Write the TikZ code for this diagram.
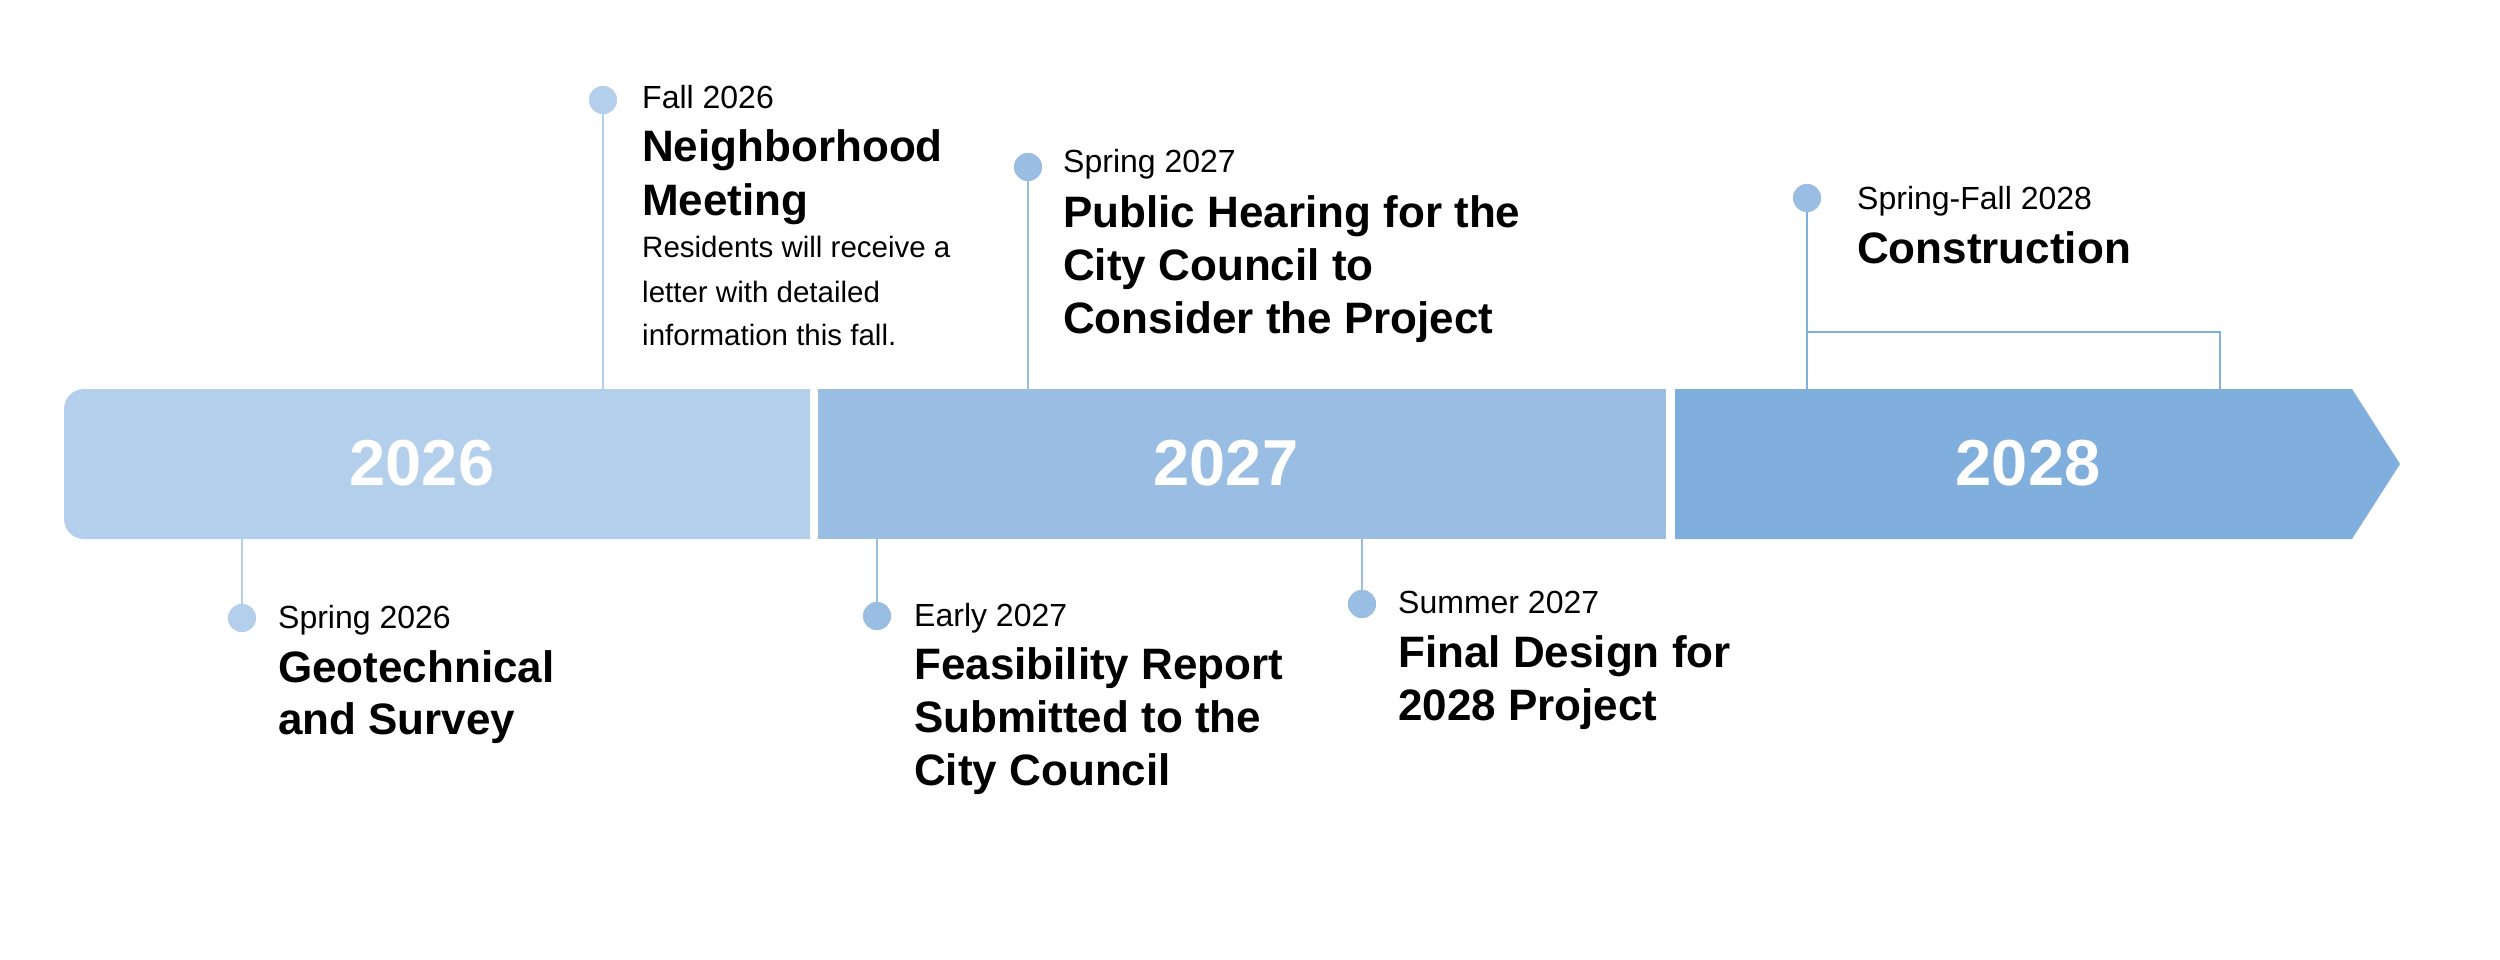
\documentclass[tikz,border=0pt]{standalone}
\usepackage{fontspec}
\setmainfont{Liberation Sans}
\definecolor{cA}{HTML}{B4CFEB}
\definecolor{cB}{HTML}{9ABEE3}
\definecolor{cC}{HTML}{80AEDD}
\begin{document}
\begin{tikzpicture}[x=1pt,y=-1pt,
  datefont/.style={font=\fontsize{32}{38}\selectfont},
  titlefont/.style={font=\fontsize{44}{53}\selectfont\bfseries},
  bodyfont/.style={font=\fontsize{29.5}{44}\selectfont},
  yearfont/.style={font=\fontsize{65}{78}\selectfont\bfseries, text=white, inner sep=0},
  txt/.style={anchor=base west, inner sep=0, text=black},
  dot/.style={circle, inner sep=0, minimum size=28pt},
  stem/.style={line width=2pt}]
\useasboundingbox (0,0) rectangle (2500,960);
\fill[white] (0,0) rectangle (2500,960);

% bands
\fill[cA] (810,389) [rounded corners=20pt] -- (64,389) -- (64,539) [sharp corners] -- (810,539) -- cycle;
\fill[cB] (818,389) rectangle (1666,539);
\fill[cC] (1675,389) -- (2352,389) -- (2400,464) -- (2352,539) -- (1675,539) -- cycle;
\node[yearfont] (y26) at (422,463) {2026};
\node[yearfont] (y27) at (1226,463) {2027};
\node[yearfont] (y28) at (2028,463) {2028};

% band attachment points
\coordinate (a1) at (242,539);
\coordinate (a2) at (603,389);
\coordinate (a3) at (877,539);
\coordinate (a4) at (1028,389);
\coordinate (a5) at (1362,539);
\coordinate (a6) at (1807,389);
\coordinate (k1) at (1807,332);
\coordinate (k2) at (2220,332);
\coordinate (k3) at (2220,389);

% dots
\node[dot, fill=cA] (d1) at (242,618) {};
\node[dot, fill=cA] (d2) at (603,100) {};
\node[dot, fill=cB] (d3) at (877,616) {};
\node[dot, fill=cB] (d4) at (1028,167) {};
\node[dot, fill=cB] (d5) at (1362,604) {};
\node[dot, fill=cB] (d6) at (1807,198) {};

% stems
\draw[stem, cA] (a1) -- (d1.center);
\draw[stem, cA] (a2) -- (d2.center);
\draw[stem, cB] (a3) -- (d3.center);
\draw[stem, cB] (a4) -- (d4.center);
\draw[stem, cB] (a5) -- (d5.center);
\draw[stem, cC] (a6) -- (d6.center);
\draw[stem, cC] (k1) -- (k2) -- (k3);

% redraw dots on top
\node[dot, fill=cA] at (d1) {};
\node[dot, fill=cA] at (d2) {};
\node[dot, fill=cB] at (d3) {};
\node[dot, fill=cB] at (d4) {};
\node[dot, fill=cB] at (d5) {};
\node[dot, fill=cB] at (d6) {};

% Spring 2026
\node[txt, datefont] (t1d) at (278,628) {Spring 2026};
\node[txt, titlefont] (t1a) at (278,682) {Geotechnical};
\node[txt, titlefont] (t1b) at (278,734) {and Survey};

% Fall 2026
\node[txt, datefont] (t2d) at (642,109) {Fall 2026};
\node[txt, titlefont] (t2a) at (642,162) {Neighborhood};
\node[txt, titlefont] (t2b) at (642,215) {Meeting};
\node[txt, bodyfont] (t2c) at (642,258) {Residents will receive a};
\node[txt, bodyfont] (t2e) at (642,302) {letter with detailed};
\node[txt, bodyfont] (t2f) at (642,345) {information this fall.};

% Early 2027
\node[txt, datefont] (t3d) at (914,626) {Early 2027};
\node[txt, titlefont] (t3a) at (914,679) {Feasibility Report};
\node[txt, titlefont] (t3b) at (914,732) {Submitted to the};
\node[txt, titlefont] (t3c) at (914,785) {City Council};

% Spring 2027
\node[txt, datefont] (t4d) at (1063,173) {Spring 2027};
\node[txt, titlefont] (t4a) at (1063,227) {Public Hearing for the};
\node[txt, titlefont] (t4b) at (1063,280) {City Council to};
\node[txt, titlefont] (t4c) at (1063,333) {Consider the Project};

% Summer 2027
\node[txt, datefont] (t5d) at (1398,613) {Summer 2027};
\node[txt, titlefont] (t5a) at (1398,667) {Final Design for};
\node[txt, titlefont] (t5b) at (1398,720) {2028 Project};

% Spring-Fall 2028
\node[txt, datefont] (t6d) at (1857,210) {Spring-Fall 2028};
\node[txt, titlefont] (t6a) at (1857,263) {Construction};
\end{tikzpicture}
\end{document}
